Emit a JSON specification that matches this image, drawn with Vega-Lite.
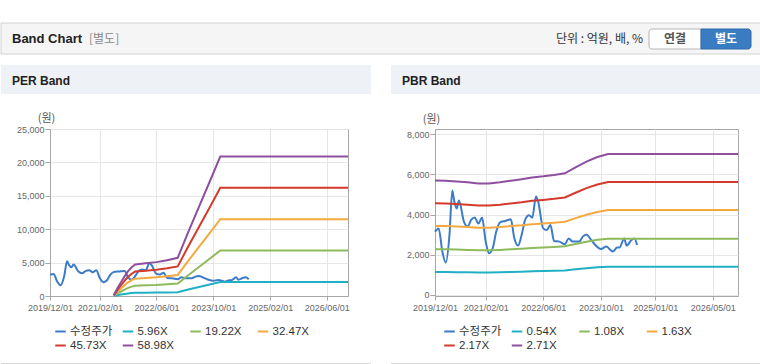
{
  "$schema": "https://vega.github.io/schema/vega-lite/v6.json",
  "padding": {"top": 22, "left": 0, "right": 0, "bottom": 0},
  "background": "white",
  "config": {
    "view": {"stroke": null},
    "axis": {
      "domainColor": "#a6a6a6",
      "tickColor": "#a6a6a6",
      "gridColor": "#e6e6e6",
      "labelColor": "#666666",
      "labelFont": "Liberation Sans",
      "labelFontSize": 9,
      "labelFlush": false,
      "titleFont": "Noto Sans CJK KR",
      "titleFontSize": 11,
      "titleFontWeight": "normal",
      "titleColor": "#555555"
    },
    "legend": {
      "labelFont": "Liberation Sans, Noto Sans CJK KR",
      "labelFontSize": 11.5,
      "labelColor": "#333333",
      "symbolType": "stroke",
      "symbolSize": 110,
      "symbolStrokeWidth": 2,
      "labelOffset": 3,
      "columnPadding": 5.5,
      "rowPadding": 2,
      "padding": 0
    }
  },
  "datasets": {
    "price": [
      {"d": "2019-12-01", "v": 3150},
      {"d": "2020-01-01", "v": 3310},
      {"d": "2020-02-01", "v": 2150},
      {"d": "2020-03-01", "v": 1600},
      {"d": "2020-04-01", "v": 2980},
      {"d": "2020-04-25", "v": 5200},
      {"d": "2020-05-12", "v": 4650},
      {"d": "2020-06-01", "v": 4300},
      {"d": "2020-06-20", "v": 4700},
      {"d": "2020-08-01", "v": 3650},
      {"d": "2020-09-01", "v": 3400},
      {"d": "2020-10-01", "v": 3730},
      {"d": "2020-11-01", "v": 3850},
      {"d": "2020-12-01", "v": 3550},
      {"d": "2021-01-01", "v": 3850},
      {"d": "2021-02-01", "v": 2650},
      {"d": "2021-03-01", "v": 2070},
      {"d": "2021-04-01", "v": 2320},
      {"d": "2021-05-01", "v": 3150},
      {"d": "2021-06-01", "v": 3610},
      {"d": "2021-07-15", "v": 3680},
      {"d": "2021-09-01", "v": 3760},
      {"d": "2021-10-01", "v": 2800},
      {"d": "2021-11-01", "v": 2450},
      {"d": "2021-12-01", "v": 2980},
      {"d": "2022-01-01", "v": 3760},
      {"d": "2022-02-01", "v": 3970},
      {"d": "2022-03-01", "v": 3840},
      {"d": "2022-04-01", "v": 4900},
      {"d": "2022-04-20", "v": 4640},
      {"d": "2022-06-01", "v": 3310},
      {"d": "2022-07-01", "v": 3230},
      {"d": "2022-08-01", "v": 3480},
      {"d": "2022-09-01", "v": 2680},
      {"d": "2022-10-15", "v": 2650},
      {"d": "2022-12-01", "v": 2520},
      {"d": "2023-01-01", "v": 2810},
      {"d": "2023-02-05", "v": 2650},
      {"d": "2023-04-01", "v": 2650},
      {"d": "2023-05-01", "v": 2900},
      {"d": "2023-06-01", "v": 3010},
      {"d": "2023-07-01", "v": 2810},
      {"d": "2023-08-15", "v": 2480},
      {"d": "2023-10-01", "v": 2280},
      {"d": "2023-11-15", "v": 2400},
      {"d": "2024-01-10", "v": 2150},
      {"d": "2024-02-15", "v": 2350},
      {"d": "2024-03-05", "v": 2350},
      {"d": "2024-04-15", "v": 2810},
      {"d": "2024-05-05", "v": 2450},
      {"d": "2024-06-15", "v": 2730},
      {"d": "2024-07-10", "v": 2810},
      {"d": "2024-08-01", "v": 2480}
    ],
    "perb": [
      {"d": "2021-06-01", "m1": 12, "m2": 38, "m3": 65, "m4": 91, "m5": 118},
      {"d": "2021-07-01", "m1": 119, "m2": 384, "m3": 649, "m4": 915, "m5": 1180},
      {"d": "2021-08-01", "m1": 209, "m2": 673, "m3": 1136, "m4": 1601, "m5": 2064},
      {"d": "2021-09-01", "m1": 298, "m2": 961, "m3": 1624, "m4": 2287, "m5": 2949},
      {"d": "2021-10-01", "m1": 375, "m2": 1211, "m3": 2046, "m4": 2881, "m5": 3716},
      {"d": "2021-11-01", "m1": 435, "m2": 1403, "m3": 2370, "m4": 3338, "m5": 4306},
      {"d": "2021-12-01", "m1": 477, "m2": 1538, "m3": 2598, "m4": 3658, "m5": 4718},
      {"d": "2022-03-01", "m1": 495, "m2": 1595, "m3": 2695, "m4": 3796, "m5": 4895},
      {"d": "2022-06-01", "m1": 513, "m2": 1653, "m3": 2792, "m4": 3933, "m5": 5072},
      {"d": "2022-09-01", "m1": 542, "m2": 1749, "m3": 2955, "m4": 4161, "m5": 5367},
      {"d": "2022-12-01", "m1": 578, "m2": 1864, "m3": 3150, "m4": 4436, "m5": 5721},
      {"d": "2023-03-01", "m1": 966, "m2": 3114, "m3": 5260, "m4": 7408, "m5": 9555},
      {"d": "2023-06-01", "m1": 1347, "m2": 4344, "m3": 7338, "m4": 10335, "m5": 13329},
      {"d": "2023-09-01", "m1": 1728, "m2": 5574, "m3": 9416, "m4": 13262, "m5": 17104},
      {"d": "2023-12-01", "m1": 2110, "m2": 6804, "m3": 11494, "m4": 16188, "m5": 20879},
      {"d": "2026-12-01", "m1": 2110, "m2": 6804, "m3": 11494, "m4": 16188, "m5": 20879}
    ],
    "pbrb": [
      {"d": "2019-12-01", "m1": 1135, "m2": 2270, "m3": 3426, "m4": 4561, "m5": 5696},
      {"d": "2020-03-01", "m1": 1134, "m2": 2268, "m3": 3423, "m4": 4557, "m5": 5691},
      {"d": "2020-06-01", "m1": 1126, "m2": 2252, "m3": 3399, "m4": 4524, "m5": 5650},
      {"d": "2020-09-01", "m1": 1118, "m2": 2236, "m3": 3374, "m4": 4492, "m5": 5610},
      {"d": "2020-12-01", "m1": 1107, "m2": 2214, "m3": 3342, "m4": 4449, "m5": 5556},
      {"d": "2021-03-01", "m1": 1107, "m2": 2214, "m3": 3342, "m4": 4449, "m5": 5556},
      {"d": "2021-06-01", "m1": 1118, "m2": 2236, "m3": 3374, "m4": 4492, "m5": 5610},
      {"d": "2021-09-01", "m1": 1134, "m2": 2268, "m3": 3423, "m4": 4557, "m5": 5691},
      {"d": "2021-12-01", "m1": 1148, "m2": 2295, "m3": 3464, "m4": 4611, "m5": 5759},
      {"d": "2022-03-01", "m1": 1166, "m2": 2333, "m3": 3521, "m4": 4687, "m5": 5854},
      {"d": "2022-06-01", "m1": 1177, "m2": 2354, "m3": 3553, "m4": 4731, "m5": 5908},
      {"d": "2022-09-01", "m1": 1191, "m2": 2381, "m3": 3594, "m4": 4785, "m5": 5976},
      {"d": "2022-12-01", "m1": 1207, "m2": 2415, "m3": 3645, "m4": 4852, "m5": 6060},
      {"d": "2023-03-01", "m1": 1266, "m2": 2533, "m3": 3822, "m4": 5089, "m5": 6355},
      {"d": "2023-06-01", "m1": 1323, "m2": 2646, "m3": 3994, "m4": 5317, "m5": 6640},
      {"d": "2023-09-01", "m1": 1369, "m2": 2738, "m3": 4132, "m4": 5501, "m5": 6870},
      {"d": "2023-12-01", "m1": 1399, "m2": 2797, "m3": 4222, "m4": 5620, "m5": 7019},
      {"d": "2026-12-01", "m1": 1399, "m2": 2797, "m3": 4222, "m4": 5620, "m5": 7019}
    ]
  },
  "spacing": 0,
  "bounds": "flush",
  "resolve": {"scale": {"color": "independent"}, "legend": {"color": "independent"}},
  "vconcat": [
    {
      "width": 760,
      "height": 42,
      "data": {"values": [{}]},
      "layer": [
        {"mark": {"type": "rect", "x": 0, "x2": 760, "y": 0, "y2": 31, "fill": "#f5f5f5", "stroke": "#d2d2d2"}, "encoding": {}},
        {"mark": {"type": "text", "text": "Band Chart", "x": 11, "y": 16, "align": "left", "baseline": "middle", "font": "Liberation Sans", "fontSize": 13, "fontWeight": "bold", "fill": "#222222"}},
        {"mark": {"type": "text", "text": "[별도]", "x": 88, "y": 16, "align": "left", "baseline": "middle", "font": "Noto Sans CJK KR", "fontSize": 12, "fill": "#888888"}},
        {"mark": {"type": "text", "text": "단위 : 억원, 배, %", "x": 642, "y": 16, "align": "right", "baseline": "middle", "font": "Noto Sans CJK KR", "fontSize": 12, "fill": "#333333"}},
        {"mark": {"type": "rect", "x": 648, "x2": 700, "y": 6, "y2": 26, "fill": "#ffffff", "stroke": "#b5b5b5", "cornerRadiusTopLeft": 3, "cornerRadiusBottomLeft": 3}, "encoding": {}},
        {"mark": {"type": "rect", "x": 700, "x2": 750, "y": 6, "y2": 26, "fill": "#3a7cc2", "stroke": "#2f6aa8", "cornerRadiusTopRight": 3, "cornerRadiusBottomRight": 3}, "encoding": {}},
        {"mark": {"type": "text", "text": "연결", "x": 674, "y": 16, "align": "center", "baseline": "middle", "font": "Noto Sans CJK KR", "fontSize": 12, "fontWeight": "bold", "fill": "#555555"}},
        {"mark": {"type": "text", "text": "별도", "x": 725, "y": 16, "align": "center", "baseline": "middle", "font": "Noto Sans CJK KR", "fontSize": 12, "fontWeight": "bold", "fill": "#ffffff"}}
      ]
    },
    {
      "width": 760,
      "height": 64,
      "data": {"values": [{}]},
      "layer": [
        {"mark": {"type": "rect", "x": 0, "x2": 370, "y": 0, "y2": 29, "fill": "#eef1f6"}, "encoding": {}},
        {"mark": {"type": "rect", "x": 390, "x2": 760, "y": 0, "y2": 29, "fill": "#eef1f6"}, "encoding": {}},
        {"mark": {"type": "rule", "x": 0, "x2": 370, "y": 0, "y2": 0, "stroke": "#d3d3d3"}, "encoding": {}},
        {"mark": {"type": "rule", "x": 390, "x2": 760, "y": 0, "y2": 0, "stroke": "#d3d3d3"}, "encoding": {}},
        {"mark": {"type": "text", "text": "PER Band", "x": 11, "y": 16, "align": "left", "baseline": "middle", "font": "Liberation Sans", "fontSize": 12, "fontWeight": "bold", "fill": "#222222"}},
        {"mark": {"type": "text", "text": "PBR Band", "x": 401, "y": 16, "align": "left", "baseline": "middle", "font": "Liberation Sans", "fontSize": 12, "fontWeight": "bold", "fill": "#222222"}}
      ]
    },
    {
      "spacing": 0,
      "bounds": "flush",
      "resolve": {"scale": {"color": "independent"}, "legend": {"color": "independent"}},
      "hconcat": [
        {"width": 49, "height": 1, "data": {"values": []}, "mark": "point"},
        {
          "spacing": 87,
          "bounds": "flush",
          "resolve": {"scale": {"color": "independent"}, "legend": {"color": "independent"}},
          "hconcat": [
            {
              "width": 298,
              "height": 167,
              "view": {"stroke": "#a6a6a6"},
              "encoding": {
                "x": {
                  "field": "d", "type": "temporal",
                  "scale": {"type": "utc", "domain": [{"year": 2019, "month": 12, "date": 1, "utc": true}, {"year": 2026, "month": 12, "date": 1, "utc": true}]},
                  "axis": {
                    "title": null, "format": "%Y/%m/%d", "grid": true, "tickSize": 4, "labelPadding": 3, "labelOverlap": false,
                    "values": [
                      {"year": 2019, "month": 12, "date": 1, "utc": true},
                      {"year": 2021, "month": 2, "date": 1, "utc": true},
                      {"year": 2022, "month": 6, "date": 1, "utc": true},
                      {"year": 2023, "month": 10, "date": 1, "utc": true},
                      {"year": 2025, "month": 2, "date": 1, "utc": true},
                      {"year": 2026, "month": 6, "date": 1, "utc": true}
                    ]
                  }
                },
                "y": {
                  "field": "v", "type": "quantitative",
                  "scale": {"domain": [0, 25000], "nice": false, "zero": false},
                  "axis": {
                    "values": [0, 5000, 10000, 15000, 20000, 25000], "format": ",d", "grid": true, "tickSize": 5, "labelPadding": 1,
                    "title": "(원)", "titleAngle": 0, "titleX": -4, "titleY": -11, "titleAlign": "center", "titleBaseline": "middle"
                  }
                }
              },
              "layer": [
                {
                  "data": {"name": "price"},
                  "mark": {"type": "line", "interpolate": "monotone", "strokeWidth": 2},
                  "encoding": {
                    "color": {
                      "datum": "p", "type": "nominal", "title": null,
                      "scale": {"domain": ["p", "m1", "m2", "m3", "m4", "m5"], "range": ["#3b7bc8", "#20b0c4", "#8dbb5b", "#f4a940", "#d33a2b", "#8f4f9f"]},
                      "legend": {
                        "title": null, "orient": "none", "legendX": 4, "legendY": 196, "columns": 4, "direction": "horizontal", "gridAlign": "all",
                        "labelExpr": "datum.label=='p'?'수정주가':datum.label=='m1'?'5.96X':datum.label=='m2'?'19.22X':datum.label=='m3'?'32.47X':datum.label=='m4'?'45.73X':'58.98X'"
                      }
                    }
                  }
                },
                {
                  "data": {"name": "perb"},
                  "transform": [{"fold": ["m1", "m2", "m3", "m4", "m5"], "as": ["k", "v"]}],
                  "mark": {"type": "line", "strokeWidth": 2},
                  "encoding": {
                    "color": {
                      "field": "k", "type": "nominal", "title": null,
                      "legend": {
                        "title": null, "orient": "none", "legendX": 4, "legendY": 196, "columns": 4, "direction": "horizontal", "gridAlign": "all",
                        "labelExpr": "datum.label=='p'?'수정주가':datum.label=='m1'?'5.96X':datum.label=='m2'?'19.22X':datum.label=='m3'?'32.47X':datum.label=='m4'?'45.73X':'58.98X'"
                      }
                    }
                  }
                }
              ]
            },
            {
              "width": 303,
              "height": 167,
              "view": {"stroke": "#a6a6a6"},
              "encoding": {
                "x": {
                  "field": "d", "type": "temporal",
                  "scale": {"type": "utc", "domain": [{"year": 2019, "month": 12, "date": 1, "utc": true}, {"year": 2026, "month": 12, "date": 1, "utc": true}]},
                  "axis": {
                    "title": null, "format": "%Y/%m/%d", "grid": true, "tickSize": 4, "labelPadding": 3, "labelOverlap": false,
                    "values": [
                      {"year": 2019, "month": 12, "date": 1, "utc": true},
                      {"year": 2021, "month": 2, "date": 1, "utc": true},
                      {"year": 2022, "month": 6, "date": 1, "utc": true},
                      {"year": 2023, "month": 10, "date": 1, "utc": true},
                      {"year": 2025, "month": 1, "date": 1, "utc": true},
                      {"year": 2026, "month": 5, "date": 1, "utc": true}
                    ]
                  }
                },
                "y": {
                  "field": "v", "type": "quantitative",
                  "scale": {"domain": [-65, 8270], "nice": false, "zero": false},
                  "axis": {
                    "values": [0, 2000, 4000, 6000, 8000], "format": ",d", "grid": true, "tickSize": 5, "labelPadding": 1,
                    "title": "(원)", "titleAngle": 0, "titleX": -4, "titleY": -10, "titleAlign": "center", "titleBaseline": "middle"
                  }
                }
              },
              "layer": [
                {
                  "data": {"name": "price"},
                  "mark": {"type": "line", "interpolate": "monotone", "strokeWidth": 2},
                  "encoding": {
                    "color": {
                      "datum": "p", "type": "nominal", "title": null,
                      "scale": {"domain": ["p", "m1", "m2", "m3", "m4", "m5"], "range": ["#3b7bc8", "#20b0c4", "#8dbb5b", "#f4a940", "#d33a2b", "#8f4f9f"]},
                      "legend": {
                        "title": null, "orient": "none", "legendX": 8, "legendY": 196, "columns": 4, "direction": "horizontal", "gridAlign": "all",
                        "labelExpr": "datum.label=='p'?'수정주가':datum.label=='m1'?'0.54X':datum.label=='m2'?'1.08X':datum.label=='m3'?'1.63X':datum.label=='m4'?'2.17X':'2.71X'"
                      }
                    }
                  }
                },
                {
                  "data": {"name": "pbrb"},
                  "transform": [{"fold": ["m1", "m2", "m3", "m4", "m5"], "as": ["k", "v"]}],
                  "mark": {"type": "line", "strokeWidth": 2},
                  "encoding": {
                    "color": {
                      "field": "k", "type": "nominal", "title": null,
                      "legend": {
                        "title": null, "orient": "none", "legendX": 8, "legendY": 196, "columns": 4, "direction": "horizontal", "gridAlign": "all",
                        "labelExpr": "datum.label=='p'?'수정주가':datum.label=='m1'?'0.54X':datum.label=='m2'?'1.08X':datum.label=='m3'?'1.63X':datum.label=='m4'?'2.17X':'2.71X'"
                      }
                    }
                  }
                }
              ]
            }
          ]
        }
      ]
    },
    {
      "width": 760,
      "height": 235,
      "data": {"values": [{}]},
      "layer": [
        {"mark": {"type": "rect", "x": 0, "x2": 370, "y": 234, "y2": 235, "fill": "#d8d8d8"}, "encoding": {}},
        {"mark": {"type": "rect", "x": 390, "x2": 760, "y": 234, "y2": 235, "fill": "#d8d8d8"}, "encoding": {}}
      ]
    }
  ]
}
